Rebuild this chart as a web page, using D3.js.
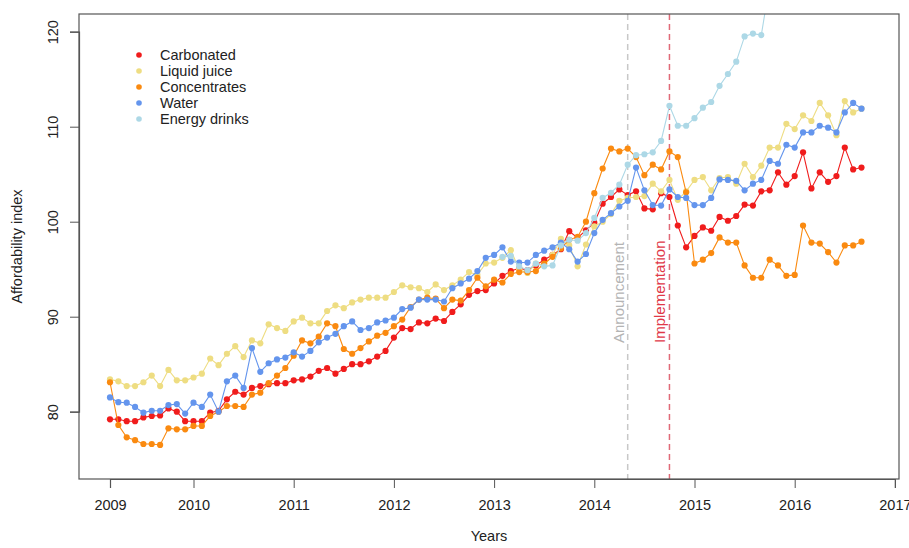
<!DOCTYPE html>
<html>
<head>
<meta charset="utf-8">
<script src="https://cdn.jsdelivr.net/npm/d3@7"></script>
<style>
body { margin:0; background:#fff; }
text { font-family:"Liberation Sans", Arial, sans-serif; }
</style>
</head>
<body>
<svg width="909" height="548"></svg>
<script>
// monthly index, 0 = first observation
const yearLabels = ["2009","2010","2011","2012","2013","2014","2015","2016","2017"];
const yearTickIndex = [0,10,22,34,46,58,70,82,94];
const yTicks = [80,90,100,110,120];

const carbonated = [79.2,79.2,79.0,79.0,79.4,79.55,79.6,80.35,80.0,79.0,79.0,79.0,79.9,80.1,81.3,82.1,81.8,82.5,82.7,82.9,
  83.0,83.0,83.3,83.4,83.7,84.3,84.6,84.0,84.5,85.0,85.0,85.3,85.8,86.4,87.8,88.8,88.7,89.4,89.3,89.8,
  89.55,90.5,91.3,92.3,92.7,92.8,93.5,94.3,94.8,95.1,94.9,95.4,96.0,96.5,97.1,99.0,98.3,99.1,99.9,101.9,
  102.6,103.4,102.8,103.2,101.4,101.3,103.0,102.6,99.6,97.3,98.5,99.4,99.05,100.5,100.1,100.6,101.8,101.7,103.2,103.3,
  105.2,103.9,104.8,107.3,103.5,105.2,104.2,104.8,107.8,105.5,105.7];
const liquidJuice = [83.4,83.2,82.7,82.7,83.1,83.8,82.7,84.4,83.3,83.3,83.6,84.0,85.6,84.9,86.1,86.9,85.75,87.5,87.2,89.2,
  88.8,88.5,89.5,89.9,89.3,89.3,90.6,91.2,90.9,91.5,91.8,92.0,92.0,92.0,92.6,93.3,93.1,93.0,92.6,93.4,
  92.8,93.3,93.9,94.7,94.4,95.6,95.7,96.2,97.0,95.0,94.6,95.6,95.4,96.5,98.2,97.5,95.3,97.6,99.5,100.0,
  100.8,102.2,102.5,102.6,102.7,104.0,103.2,104.4,102.3,103.2,104.4,104.7,103.3,104.6,104.7,104.0,106.1,104.7,105.9,107.8,
  107.8,110.3,109.75,111.2,110.6,112.5,111.2,109.1,112.7,111.5,111.9];
const concentrates = [83.1,78.6,77.3,77.0,76.6,76.6,76.5,78.25,78.15,78.15,78.5,78.5,79.55,80.0,80.6,80.6,80.5,81.8,82.0,83.0,
  83.8,84.6,85.9,87.5,87.2,87.9,89.3,89.0,86.6,86.1,86.7,87.4,88.0,88.3,89.0,89.7,91.0,91.8,92.0,91.9,
  90.9,91.8,91.7,92.8,94.1,93.2,93.9,93.6,94.5,94.7,94.7,94.8,95.6,96.3,97.2,98.1,98.4,100.0,103.0,105.6,
  107.7,107.4,107.7,106.8,104.9,106.0,105.5,107.4,106.8,103.1,95.6,96.0,96.7,98.35,97.8,97.8,95.4,94.1,94.1,96.0,
  95.4,94.3,94.4,99.6,97.8,97.7,96.8,95.7,97.5,97.5,97.9];
const water = [81.5,81.0,80.95,80.5,79.9,80.1,80.1,80.7,80.8,79.8,80.95,80.5,81.8,80.0,83.2,83.8,82.5,86.7,84.2,85.1,
  85.5,85.7,86.25,85.8,86.4,87.3,87.8,88.2,89.0,89.5,88.6,88.8,89.4,89.6,89.9,90.8,90.95,91.8,91.8,91.8,
  91.6,93.0,93.5,94.0,94.8,96.2,96.5,97.3,95.8,95.7,95.7,96.5,96.95,97.3,97.8,97.1,95.8,96.6,98.8,100.2,
  100.9,101.6,102.2,105.7,103.3,101.75,101.7,103.4,102.6,102.5,101.75,101.75,102.5,104.45,104.4,104.3,103.3,104.0,104.4,106.4,
  106.1,108.1,107.8,109.4,109.4,110.1,109.9,109.4,111.5,112.5,111.9];
// energy drinks start later and run off the top of the plot
const energyStart = 47;
const energyDrinks = [96.3,96.4,95.3,94.9,95.6,95.3,95.4,97.5,98.1,98.0,98.8,100.4,102.5,103.05,103.9,106.0,107.0,107.1,107.3,108.5,
  112.2,110.1,110.1,110.9,112.0,112.6,114.3,115.55,116.85,119.5,119.8,119.65,125.0];

const seriesNames = ["Carbonated","Liquid juice","Concentrates","Water","Energy drinks"];
const seriesColors = ["#f01c1c","#eedd82","#fa8a10","#6495ed","#add8e6"];
const seriesValues = [carbonated, liquidJuice, concentrates, water, energyDrinks];
const seriesStart = [0,0,0,0,energyStart];

const eventNames = ["Announcement","Implementation"];
const eventIndex = [62,67];
const eventColors = ["#c8c8c8","#e06a78"];
const eventTextColors = ["#b4b4b4","#e03848"];

const svg = d3.select("svg");
const pLeft = 79, pRight = 899, pTop = 14, pBottom = 479;

const x = d3.scaleLinear().domain([0,94]).range([110, 110 + 8.35*94]);
const y = d3.scaleLinear().domain([80,120]).range([411.7, 31.7]);

svg.append("clipPath").attr("id","plotclip")
  .append("rect").attr("x",pLeft).attr("y",pTop).attr("width",pRight-pLeft).attr("height",pBottom-pTop);

const plot = svg.append("g").attr("clip-path","url(#plotclip)");

// event lines
plot.selectAll(".evline")
  .data(eventIndex)
  .join("line")
  .attr("class","evline")
  .attr("x1", d=>x(d)).attr("x2", d=>x(d))
  .attr("y1", pTop).attr("y2", pBottom)
  .attr("stroke", (d,i)=>eventColors[i])
  .attr("stroke-width",1.5)
  .attr("stroke-dasharray","6,4");

svg.selectAll(".evtext")
  .data(eventIndex)
  .join("text")
  .attr("class","evtext")
  .attr("transform", d=>`translate(${x(d)-4},343) rotate(-90)`)
  .attr("font-size","15px")
  .attr("fill", (d,i)=>eventTextColors[i])
  .text((d,i)=>eventNames[i]);

// series
const series = seriesNames.map((name,k)=>({
  name: name,
  color: seriesColors[k],
  pts: seriesValues[k].map((v,i)=>({i: i + seriesStart[k], v: v}))
}));

const line = d3.line().x(d=>x(d.i)).y(d=>y(d.v));

const groups = plot.selectAll(".serie")
  .data(series)
  .join("g")
  .attr("class","serie");

groups.append("path")
  .attr("d", d=>line(d.pts))
  .attr("fill","none")
  .attr("stroke", d=>d.color)
  .attr("stroke-width",1.1);

groups.selectAll("circle")
  .data(d=>d.pts.map(p=>({...p, color:d.color})))
  .join("circle")
  .attr("cx", d=>x(d.i))
  .attr("cy", d=>y(d.v))
  .attr("r",3.1)
  .attr("fill", d=>d.color);

// box
svg.append("rect")
  .attr("x",pLeft).attr("y",pTop).attr("width",pRight-pLeft).attr("height",pBottom-pTop)
  .attr("fill","none").attr("stroke","#555").attr("stroke-width",1.2);

// x axis
const xAxis = d3.axisBottom(x)
  .tickValues(yearTickIndex)
  .tickFormat((d,i)=>yearLabels[i])
  .tickSize(9)
  .tickPadding(12);
const gx = svg.append("g").attr("transform",`translate(0,${pBottom})`).call(xAxis);
gx.select(".domain").attr("stroke","#555").attr("stroke-width",1.2);
gx.selectAll(".tick line").attr("stroke","#555");
gx.selectAll(".tick text").attr("font-size","14.5px").attr("fill","#222")
  .style("font-family","'Liberation Sans', Arial, sans-serif");

// y axis
const yAxis = d3.axisLeft(y).tickValues(yTicks).tickSize(9).tickPadding(0).tickFormat(d3.format("d"));
const gy = svg.append("g").attr("transform",`translate(${pLeft},0)`).call(yAxis);
gy.select(".domain").attr("stroke","#555").attr("stroke-width",1.2);
gy.selectAll(".tick line").attr("stroke","#555");
gy.selectAll(".tick text")
  .attr("x",0).attr("dy",null)
  .attr("transform","translate(-21,0) rotate(-90)")
  .attr("text-anchor","middle")
  .attr("font-size","14.5px").attr("fill","#222")
  .style("font-family","'Liberation Sans', Arial, sans-serif");

// axis titles
svg.append("text")
  .attr("x",(pLeft+pRight)/2).attr("y",541)
  .attr("text-anchor","middle")
  .attr("font-size","14.5px").attr("fill","#222")
  .text("Years");

svg.append("text")
  .attr("transform",`translate(22,${(pTop+pBottom)/2}) rotate(-90)`)
  .attr("text-anchor","middle")
  .attr("font-size","14.5px").attr("fill","#222")
  .text("Affordability index");

// legend
const legend = svg.selectAll(".legende")
  .data(series)
  .join("g")
  .attr("class","legende")
  .attr("transform",(d,i)=>`translate(139,${55 + i*16})`);

legend.append("circle").attr("r",2.8).attr("fill",d=>d.color);
legend.append("text")
  .attr("x",21).attr("dy","0.35em")
  .attr("font-size","14.5px").attr("fill","#222")
  .text(d=>d.name);
</script>
</body>
</html>
